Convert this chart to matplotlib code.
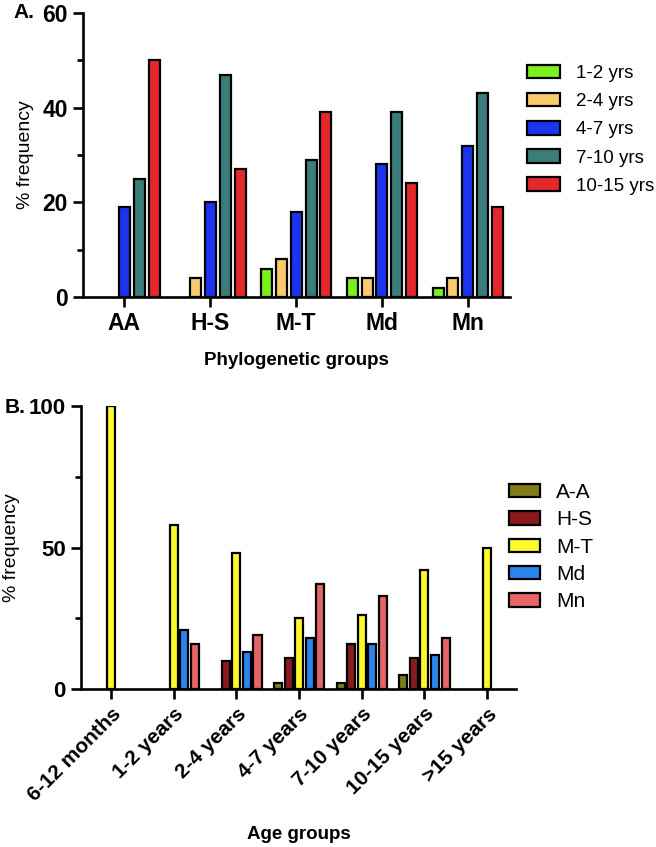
import numpy as np
import matplotlib
matplotlib.use("Agg")
import matplotlib.pyplot as plt

plt.rcParams['font.family'] = ['Liberation Sans', 'DejaVu Sans']

# panel A: frequency by phylogenetic group, split by age
phylo_groups = ["AA", "H-S", "M-T", "Md", "Mn"]
age_series = ["1-2 yrs", "2-4 yrs", "4-7 yrs", "7-10 yrs", "10-15 yrs"]
age_colors = ["#7cf01e", "#f9cb6c", "#1c34ef", "#3a7d7b", "#e5282b"]
freq_a = [
    [0, 0, 6, 4, 2],       # 1-2 yrs
    [0, 4, 8, 4, 4],       # 2-4 yrs
    [19, 20, 18, 28, 32],  # 4-7 yrs
    [25, 47, 29, 39, 43],  # 7-10 yrs
    [50, 27, 39, 24, 19],  # 10-15 yrs
]

# panel B: frequency by age group, split by phylogenetic group
age_groups = ["6-12 months", "1-2 years", "2-4 years", "4-7 years",
              "7-10 years", "10-15 years", ">15 years"]
phylo_series = ["A-A", "H-S", "M-T", "Md", "Mn"]
phylo_colors = ["#807c1c", "#8a1a1c", "#fbf82c", "#2a86ee", "#e86466"]
freq_b = [
    [0, 0, 0, 2, 2, 5, 0],          # A-A
    [0, 0, 10, 11, 16, 11, 0],      # H-S
    [100, 58, 48, 25, 26, 42, 50],  # M-T
    [0, 21, 13, 18, 16, 12, 0],     # Md
    [0, 16, 19, 37, 33, 18, 0],     # Mn
]

W, H = 656, 847
fig = plt.figure(figsize=(W / 100, H / 100), dpi=100)


def style_axes(ax, labelsize):
    for s in ["top", "right"]:
        ax.spines[s].set_visible(False)
    for s in ["left", "bottom"]:
        ax.spines[s].set_linewidth(1.9)
    ax.tick_params(axis="both", which="major", width=1.9, length=7,
                   labelsize=labelsize, pad=4)
    ax.tick_params(axis="y", which="minor", width=1.9, length=4)
    for lab in ax.get_xticklabels() + ax.get_yticklabels():
        lab.set_fontweight("bold")


def grouped_bars(ax, cats, series, colors, values, step, width):
    x = np.arange(len(cats))
    n = len(series)
    for i, (name, col, vals) in enumerate(zip(series, colors, values)):
        # empty cells are left out instead of drawn as flat outlines
        heights = [v if v > 0 else np.nan for v in vals]
        ax.bar(x + (i - (n - 1) / 2) * step, heights, width, color=col,
               edgecolor="black", linewidth=1.6, label=name, zorder=3)
    ax.set_xticks(x)


# ---- panel A ----
axA = fig.add_axes([83 / W, 1 - 297 / H, (510 - 83) / W, (297 - 13) / H])
grouped_bars(axA, phylo_groups, age_series, age_colors, freq_a, 0.174, 0.128)
axA.set_xticklabels(phylo_groups)
axA.set_xlim(-0.48, 4.49)
axA.set_ylim(0, 60)
axA.set_yticks([0, 20, 40, 60])
axA.set_yticks([10, 30, 50], minor=True)
style_axes(axA, 16.5)
axA.set_ylabel("% frequency", fontsize=14, labelpad=6)
axA.set_xlabel("Phylogenetic groups", fontsize=13.5, fontweight="bold",
               labelpad=12)
axA.legend(loc="upper left", bbox_to_anchor=(527 / W, 1 - 65 / H),
           bbox_transform=fig.transFigure, frameon=False, fontsize=13.5,
           handlelength=1.75, handleheight=0.72, handletextpad=0.85,
           labelspacing=0.58, borderaxespad=0, borderpad=0)
fig.text(13 / W, 1 - 12 / H, "A.", fontsize=15, fontweight="bold",
         va="center", ha="left")

# ---- panel B ----
axB = fig.add_axes([81 / W, 1 - 689 / H, (516 - 81) / W, (689 - 406) / H])
grouped_bars(axB, age_groups, phylo_series, phylo_colors, freq_b, 0.168, 0.128)
axB.set_xticklabels(age_groups, rotation=45, ha="right", rotation_mode="anchor")
axB.set_xlim(-0.48, 6.46)
axB.set_ylim(0, 100)
axB.set_yticks([0, 50, 100])
axB.set_yticks([25, 75], minor=True)
style_axes(axB, 16)
for lab in axB.get_xticklabels():
    lab.set_fontsize(15)
axB.set_ylabel("% frequency", fontsize=14, labelpad=6)
axB.set_xlabel("Age groups", fontsize=13.5, fontweight="bold", labelpad=15)
axB.legend(loc="upper left", bbox_to_anchor=(509 / W, 1 - 483 / H),
           bbox_transform=fig.transFigure, frameon=False, fontsize=15,
           handlelength=1.5, handleheight=0.62, handletextpad=0.75,
           labelspacing=0.4, borderaxespad=0, borderpad=0)
fig.text(5 / W, 1 - 407 / H, "B.", fontsize=15, fontweight="bold",
         va="center", ha="left")

fig.savefig("out.png", dpi=100)
